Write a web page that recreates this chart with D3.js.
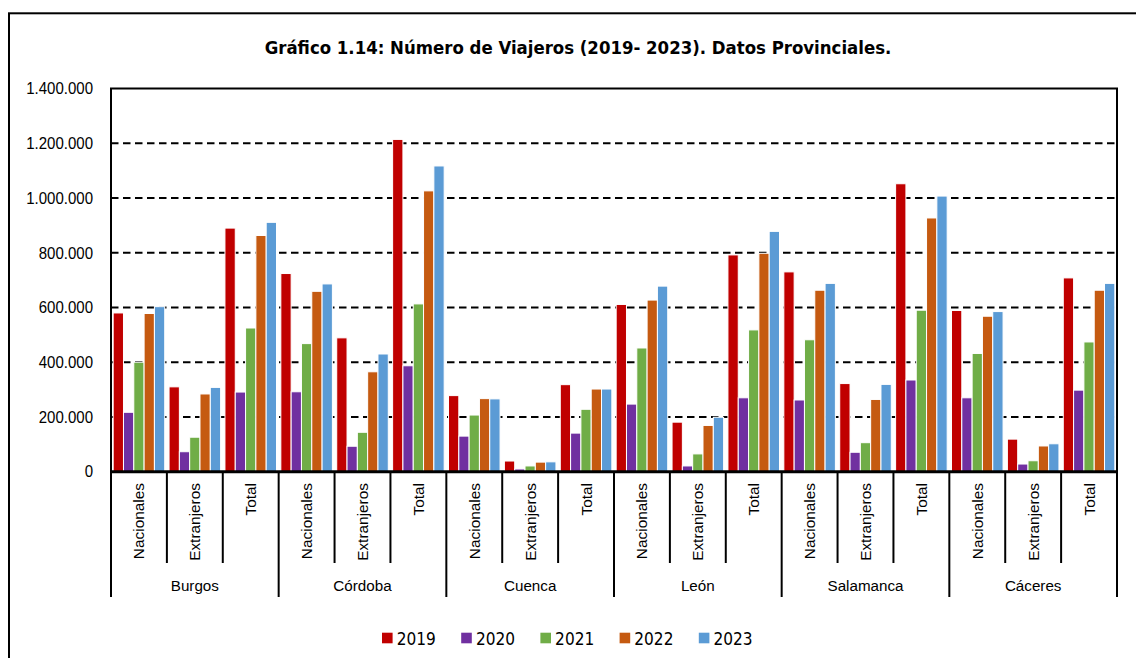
<!DOCTYPE html>
<html>
<head>
<meta charset="utf-8">
<script src="https://cdn.jsdelivr.net/npm/d3@7"></script>
<style>
  html, body { margin: 0; padding: 0; background: #fff; }
  svg { display: block; }
</style>
</head>
<body>
<svg id="chart" width="1136" height="658"></svg>
<script>
// ---------------- DATA ----------------
const provinces = ["Burgos", "Córdoba", "Cuenca", "León", "Salamanca", "Cáceres"];
const subcats = ["Nacionales", "Extranjeros", "Total"];
const years = ["2019", "2020", "2021", "2022", "2023"];
const yTicks = [0, 200000, 400000, 600000, 800000, 1000000, 1200000, 1400000];
const titleText = "Gráfico 1.14: Número de Viajeros (2019- 2023). Datos Provinciales.";

// values in order: province x (Nacionales, Extranjeros, Total)
const v2019 = [580000, 310000, 890000, 724000, 489000, 1214000, 278000, 39000, 318000, 611000, 181000, 792000, 730000, 322000, 1052000, 589000, 119000, 708000];
const v2020 = [217000, 73000, 291000, 292000, 93000, 387000, 130000, 10000, 141000, 247000, 21000, 270000, 262000, 71000, 335000, 270000, 28000, 298000];
const v2021 = [400000, 126000, 525000, 468000, 144000, 613000, 207000, 21000, 228000, 452000, 65000, 518000, 482000, 106000, 590000, 432000, 40000, 474000];
const v2022 = [578000, 284000, 863000, 659000, 365000, 1026000, 267000, 35000, 302000, 627000, 169000, 798000, 663000, 264000, 927000, 568000, 94000, 663000];
const v2023 = [603000, 308000, 911000, 686000, 430000, 1117000, 266000, 36000, 302000, 678000, 199000, 878000, 688000, 319000, 1007000, 585000, 102000, 688000];
const seriesValues = [v2019, v2020, v2021, v2022, v2023];
const colors = ["#C00000", "#7030A0", "#70AD47", "#C55A11", "#5B9BD5"];

// ---------------- LAYOUT ----------------
const svg = d3.select("#chart");
const plot = { left: 111, right: 1117, top: 88.5, bottom: 471.7 };
const axisFont = "'Liberation Sans', Arial, sans-serif";
const condFont = "'DejaVu Sans Condensed', 'DejaVu Sans', sans-serif";

// Outer frame (extends beyond the visible area on right/bottom)
svg.append("rect")
  .attr("x", 9).attr("y", 13.3)
  .attr("width", 1160).attr("height", 680)
  .attr("fill", "none").attr("stroke", "#000").attr("stroke-width", 2);

// Title
const title = svg.append("text")
  .attr("x", 578).attr("y", 53.5)
  .attr("text-anchor", "middle")
  .attr("font-family", condFont)
  .attr("font-weight", "bold")
  .attr("font-size", 16)
  .attr("fill", "#000")
  .text(titleText);
(function fit() {
  const target = 627;
  const w = title.node().getComputedTextLength();
  if (w > 0) title.attr("font-size", 16 * target / w);
})();

// Scales
const x0 = d3.scaleBand().domain(provinces).range([plot.left, plot.right]).padding(0);
const xs = d3.scaleBand().domain(subcats).range([0, x0.bandwidth()]).padding(0);
const x1 = d3.scaleBand().domain(years).range([0, xs.bandwidth()]).paddingInner(0).paddingOuter(0.21);
const y = d3.scaleLinear().domain([0, 1400000]).range([plot.bottom, plot.top]);

const locale = d3.formatLocale({ decimal: ",", thousands: ".", grouping: [3], currency: ["", ""] });
const fmt = locale.format(",");

// Gridlines (dashed)
svg.append("g").selectAll("line")
  .data(yTicks.filter(d => d > 0 && d < 1400000))
  .join("line")
  .attr("x1", plot.left).attr("x2", plot.right)
  .attr("y1", d => y(d)).attr("y2", d => y(d))
  .attr("stroke", "#000").attr("stroke-width", 2)
  .attr("stroke-dasharray", "7.5,4.5");

// Bars
const rows = [];
provinces.forEach((p, pi) => {
  subcats.forEach((s, si) => {
    const idx = pi * subcats.length + si;
    years.forEach((yr, yi) => {
      rows.push({ p, s, yr, yi, v: seriesValues[yi][idx] });
    });
  });
});
svg.append("g").selectAll("rect")
  .data(rows)
  .join("rect")
  .attr("x", d => x0(d.p) + xs(d.s) + x1(d.yr))
  .attr("y", d => y(d.v))
  .attr("width", x1.bandwidth())
  .attr("height", d => y(0) - y(d.v))
  .attr("fill", d => colors[d.yi])
  .attr("stroke", "#fff").attr("stroke-width", 1);

// Plot border: top, left, right
svg.append("path")
  .attr("d", `M${plot.left},${plot.bottom} V${plot.top} H${plot.right} V${plot.bottom}`)
  .attr("fill", "none").attr("stroke", "#000").attr("stroke-width", 2);

// Y axis labels (slightly condensed, as in the reference)
const yLab = svg.append("g").selectAll("text")
  .data(yTicks)
  .join("text")
  .attr("transform", d => `translate(93,${y(d)}) scale(0.91,1)`)
  .attr("text-anchor", "end")
  .attr("dy", "0.35em")
  .attr("font-family", axisFont).attr("font-size", 16.5).attr("fill", "#000")
  .text(d => fmt(d));

// Category separators
const sepData = [];
provinces.forEach(p => {
  subcats.forEach((s, si) => {
    sepData.push({ x: x0(p) + xs(s), long: si === 0 });
  });
});
sepData.push({ x: plot.right, long: true });
svg.append("g").selectAll("line")
  .data(sepData)
  .join("line")
  .attr("x1", d => d.x).attr("x2", d => d.x)
  .attr("y1", plot.bottom).attr("y2", d => d.long ? 597 : 563)
  .attr("stroke", "#000").attr("stroke-width", 2);

// Zero axis line
svg.append("line")
  .attr("x1", plot.left - 1).attr("x2", plot.right + 1)
  .attr("y1", y(0)).attr("y2", y(0))
  .attr("stroke", "#000").attr("stroke-width", 3);

// Sub-category labels (rotated)
const subLabels = [];
provinces.forEach(p => subcats.forEach(s => subLabels.push({ p, s })));
svg.append("g").selectAll("text")
  .data(subLabels)
  .join("text")
  .attr("transform", d => `translate(${x0(d.p) + xs(d.s) + xs.bandwidth() / 2},483) rotate(-90)`)
  .attr("text-anchor", "end")
  .attr("dy", "0.36em")
  .attr("font-family", axisFont).attr("font-size", 15.4).attr("fill", "#000")
  .text(d => d.s);

// Province labels
svg.append("g").selectAll("text")
  .data(provinces)
  .join("text")
  .attr("x", d => x0(d) + x0.bandwidth() / 2)
  .attr("y", 586)
  .attr("dy", "0.36em")
  .attr("text-anchor", "middle")
  .attr("font-family", axisFont).attr("font-size", 15.2).attr("fill", "#000")
  .text(d => d);

// Legend
const legendX = d3.scaleBand().domain(years).range([382, 382 + 79.2 * 5]);
const lg = svg.append("g").selectAll("g")
  .data(years)
  .join("g")
  .attr("transform", (d) => `translate(${legendX(d)},632.7)`);
lg.append("rect")
  .attr("width", 10.6).attr("height", 10.6)
  .attr("fill", (d, i) => colors[i]);
lg.append("text")
  .attr("transform", "translate(14.7,12.6) scale(0.95,1)")
  .attr("font-family", condFont).attr("font-size", 18).attr("fill", "#000")
  .text(d => d);
</script>
</body>
</html>
